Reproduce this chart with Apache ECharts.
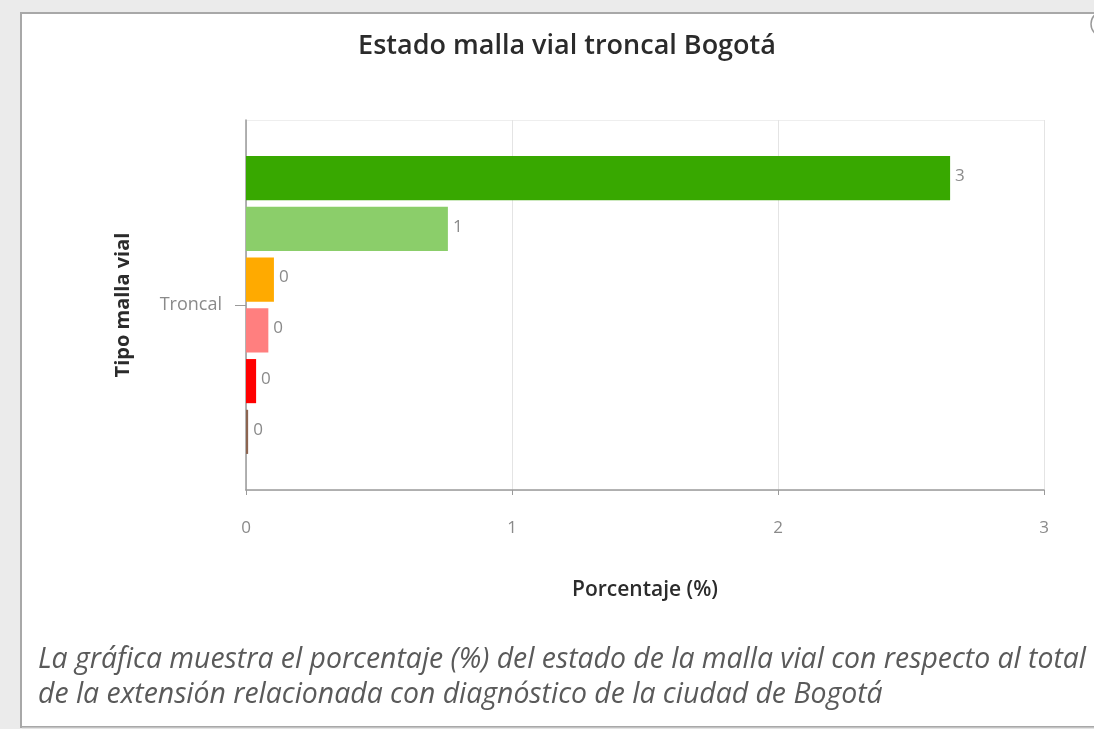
<!DOCTYPE html>
<html>
<head>
<meta charset="utf-8">
<script src="https://cdn.jsdelivr.net/npm/echarts@6/dist/echarts.min.js"></script>
<style>
html,body{margin:0;padding:0;background:#ebebeb;}
#c{width:1094px;height:729px;}
</style>
</head>
<body>
<div id="c"></div>
<script>
const categories = ['Troncal'];
const seriesNames = ['Bueno', 'Satisfactorio', 'Regular', 'Pobre', 'Muy pobre', 'Fallado'];
const seriesValues = [2.647, 0.759, 0.105, 0.084, 0.038, 0.008];
const seriesColors = ['#38a800', '#8bce6a', '#ffaa00', '#ff7f7f', '#ff0000', '#8c6450'];
const xTicks = [0, 1, 2, 3];
const titleText = 'Estado malla vial troncal Bogotá';
const yAxisTitle = 'Tipo malla vial';
const xAxisTitle = 'Porcentaje (%)';
const captionLines = ['La gráfica muestra el porcentaje (%) del estado de la malla vial con respecto al total',
  'de la extensión relacionada con diagnóstico de la ciudad de Bogotá'];

const chart = echarts.init(document.getElementById('c'));
const series = seriesNames.map((n, i) => ({
  name: n,
  type: 'bar',
  data: [seriesValues[i]],
  barGap: '15%',
  barCategoryGap: '19.5%',
  itemStyle: {color: seriesColors[i]},
  label: {
    show: true, position: 'right', distance: 5, offset: [0, -2],
    formatter: p => String(Math.round(p.value)),
    color: '#8a8a8a', fontSize: 17, fontFamily: 'Open Sans'
  },
  silent: true
}));

chart.setOption({
  animation: false,
  backgroundColor: '#ebebeb',
  graphic: [
    {type: 'rect', shape: {x: 21, y: 13, width: 1100, height: 714}, style: {fill: '#ffffff', stroke: '#a8a8a8', lineWidth: 2}, z: -10},
    {type: 'line', shape: {x1: 22, y1: 728, x2: 1094, y2: 728}, style: {stroke: '#dcdcdc', lineWidth: 1}, z: -9},
    {type: 'circle', shape: {cx: 1104, cy: 24, r: 13}, style: {fill: 'none', stroke: '#9a9a9a', lineWidth: 1.5}},
    {type: 'text', left: 38, top: 646, style: {text: captionLines[0], font: 'italic 28.4px "Open Sans"', fill: '#5a5a5a'}},
    {type: 'text', left: 38, top: 681, style: {text: captionLines[1], font: 'italic 28.4px "Open Sans"', fill: '#5a5a5a'}}
  ],
  title: {
    text: titleText, left: 562, top: 28, textAlign: 'center',
    textStyle: {fontFamily: 'Open Sans', fontSize: 27, fontWeight: 600, color: '#2b2b2b'}
  },
  grid: {left: 246, right: 50, top: 120, bottom: 239, containLabel: false},
  xAxis: {
    type: 'value', min: 0, max: 3, interval: 1,
    name: xAxisTitle, nameLocation: 'middle', nameGap: 90,
    nameTextStyle: {fontFamily: 'Open Sans', fontSize: 21, fontWeight: 600, color: '#2b2b2b'},
    axisLine: {show: true, lineStyle: {color: '#9a9a9a', width: 1.5}},
    axisTick: {show: true, length: 5, lineStyle: {color: '#9a9a9a'}},
    axisLabel: {margin: 30, color: '#8a8a8a', fontSize: 17, fontFamily: 'Open Sans', formatter: v => xTicks.includes(v) ? String(v) : ''},
    splitLine: {show: true, lineStyle: {color: '#e4e4e4', width: 1}}
  },
  yAxis: {
    type: 'category', data: categories, inverse: true,
    name: yAxisTitle, nameLocation: 'middle', nameGap: 113, nameRotate: 90,
    nameTextStyle: {fontFamily: 'Open Sans', fontSize: 20, fontWeight: 700, color: '#2b2b2b'},
    axisLine: {show: true, lineStyle: {color: '#9a9a9a', width: 1.5}},
    axisTick: {show: true, alignWithLabel: true, length: 11, lineStyle: {color: '#9a9a9a'}},
    axisLabel: {margin: 24, color: '#8a8a8a', fontSize: 18, fontFamily: 'Open Sans', verticalAlign: 'middle', padding: [0, 0, 6, 0]},
    splitLine: {show: true, lineStyle: {color: '#eeeeee'}}
  },
  series: series
});
</script>
</body>
</html>
